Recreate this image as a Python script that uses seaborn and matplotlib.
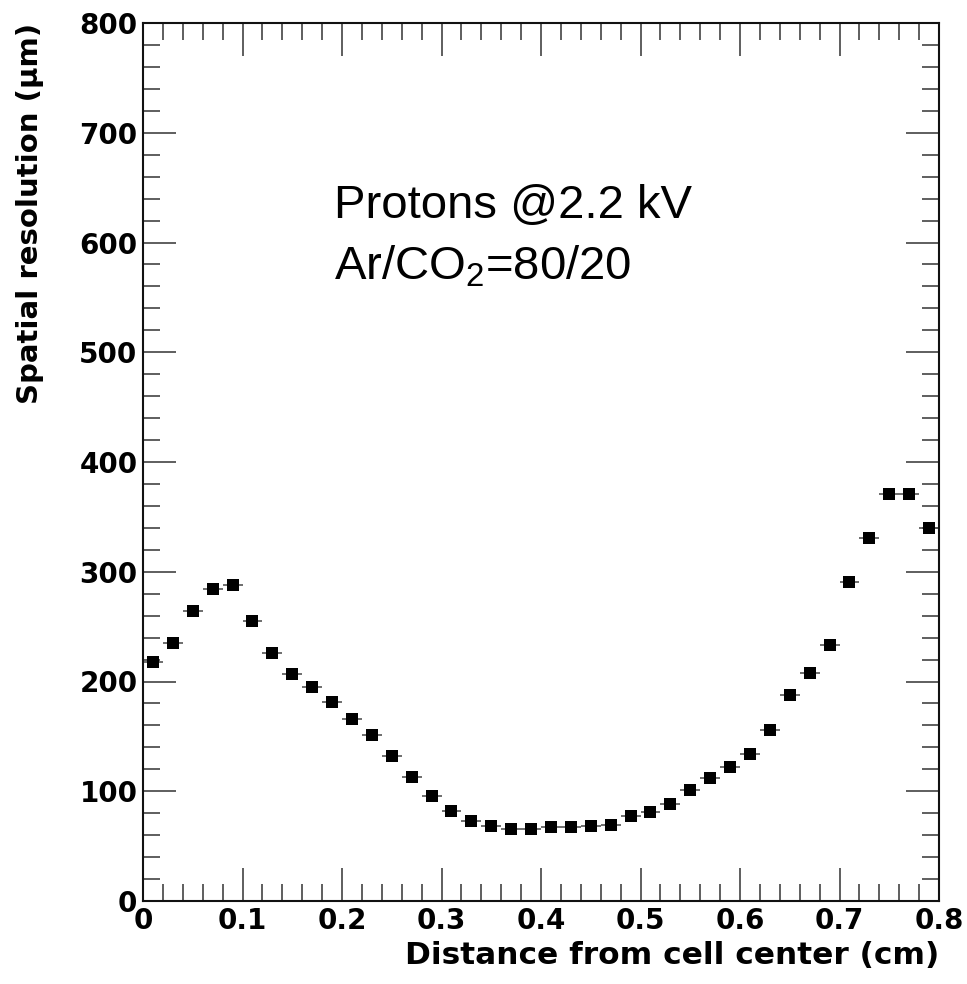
import numpy as np
import pandas as pd
import seaborn as sns
import matplotlib.pyplot as plt
from matplotlib.ticker import MultipleLocator

# bin centres (cm) and resolution (um)
distance = [0.01, 0.03, 0.05, 0.07, 0.09, 0.11, 0.13, 0.15, 0.17, 0.19,
            0.21, 0.23, 0.25, 0.27, 0.29, 0.31, 0.33, 0.35, 0.37, 0.39,
            0.41, 0.43, 0.45, 0.47, 0.49, 0.51, 0.53, 0.55, 0.57, 0.59,
            0.61, 0.63, 0.65, 0.67, 0.69, 0.71, 0.73, 0.75, 0.77, 0.79]
resolution = [218, 235, 264, 284, 288, 255, 226, 207, 195, 181,
              166, 151, 132, 113, 96, 82, 73, 68, 66, 66,
              67, 67, 68, 69, 77, 81, 88, 101, 112, 122,
              134, 156, 188, 208, 233, 291, 331, 371, 371, 340]
bin_half_width = 0.01

df = pd.DataFrame({'distance': distance, 'resolution': resolution})

sns.set_style('ticks')
plt.rcParams['font.family'] = ['DejaVu Sans']
plt.rcParams['mathtext.fontset'] = 'custom'
plt.rcParams['mathtext.rm'] = 'Liberation Sans'
plt.rcParams['text.color'] = 'black'
plt.rcParams['axes.labelcolor'] = 'black'
plt.rcParams['xtick.labelcolor'] = 'black'
plt.rcParams['ytick.labelcolor'] = 'black'

fig = plt.figure(figsize=(9.67, 9.84), dpi=100)
ax = fig.add_axes([143/967, 83/984, 796/967, 878/984])

ax.errorbar(df['distance'], df['resolution'], xerr=bin_half_width,
            fmt='none', ecolor='#555555', elinewidth=1.2, capsize=0, zorder=2)
sns.scatterplot(data=df, x='distance', y='resolution', marker='s', s=85,
                color='black', edgecolor='black', linewidth=0, ax=ax, zorder=3)

ax.set_xlim(0, 0.8)
ax.set_ylim(0, 800)
ax.xaxis.set_minor_locator(MultipleLocator(0.02))
ax.yaxis.set_major_locator(MultipleLocator(100))
ax.yaxis.set_minor_locator(MultipleLocator(20))
ax.set_xticks(np.arange(0, 0.81, 0.1))
ax.set_xticklabels(['0', '0.1', '0.2', '0.3', '0.4', '0.5', '0.6', '0.7', '0.8'])

ax.tick_params(which='both', direction='in', top=True, right=True,
               labelsize=20, width=1.1, color='#333333', labelcolor='black')
ax.tick_params(which='major', length=24, pad=4)
ax.tick_params(which='minor', length=12)
for lab in ax.get_xticklabels() + ax.get_yticklabels():
    lab.set_fontweight('bold')
for sp in ax.spines.values():
    sp.set_linewidth(1.5)
    sp.set_color('#111111')

ax.set_xlabel('Distance from cell center (cm)', fontsize=22.5, fontweight='bold',
              ha='right', color='black')
ax.xaxis.set_label_coords(1.0, -0.046)
ax.set_ylabel('Spatial resolution (μm)', fontsize=21, fontweight='bold',
              ha='right', va='center', color='black')
ax.yaxis.set_label_coords(-0.142, 1.0)

ax.text(0.24, 0.778, 'Protons @2.2 kV', transform=ax.transAxes,
        fontsize=34, family='Liberation Sans', va='baseline', color='black')
ax.text(0.24, 0.708, 'Ar/CO$_{2}$=80/20', transform=ax.transAxes,
        fontsize=34, family='Liberation Sans', va='baseline', color='black')

fig.savefig('out.png', dpi=100)
